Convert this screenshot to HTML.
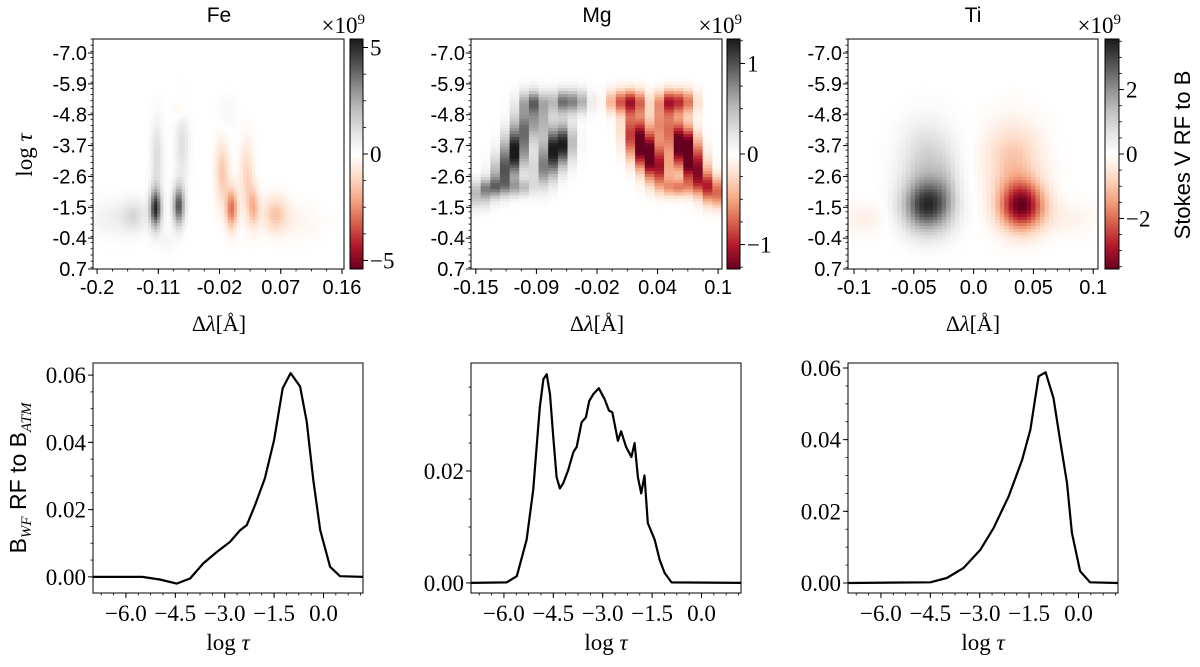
<!DOCTYPE html>
<html><head><meta charset="utf-8"><style>
html,body{margin:0;padding:0;background:#fff;}
svg{display:block;}
.sans{font-family:"Liberation Sans","DejaVu Sans",sans-serif;}
.serif{font-family:"Liberation Serif","DejaVu Serif",serif;}
</style></head><body>
<svg id="fig" width="1200" height="667" viewBox="0 0 1200 667" xmlns="http://www.w3.org/2000/svg"></svg>
<script>
// ---------- DATA ----------
const feLam=[-0.114,-0.08,-0.112,-0.075,-0.146,-0.18,-0.009,-0.097,-0.002,-0.016,0.02,0.03,0.062,-0.078,0.099];
const feTau=[-1.45,-1.55,-3.3,-3.7,-1.2,-1.1,-4.85,-0.3,-1.45,-2.7,-2.6,-1.5,-1.25,-4.96,-1.0];
const feAmp=[5.0,4.3,1.2,1.1,1.2,0.5,0.3,0.3,-3.0,-1.5,-1.2,-1.8,-1.5,-0.5,-0.3];
const feSl=[.006,.006,.006,.007,.013,.022,.01,.008,.006,.007,.007,.006,.013,.007,.022];
const feSt=[.5,.5,.9,.9,.4,.45,.45,.3,.5,.8,.9,.5,.45,.3,.45];

const mgLam=[-0.091,-0.06,-0.11,-0.122,-0.101,-0.07,-0.06,-0.08,-0.135,-0.147,-0.043,-0.084,-0.105,
 0.012,0.05,-0.005,0.067,0.019,0.03,0.06,0.069,0.04,0.078,0.091,0.098,0.057,0.012,0.043];
const mgTau=[-5.26,-5.26,-3.47,-2.7,-4.37,-3.47,-3.83,-2.8,-2.2,-1.85,-5.26,-4.6,-2.2,
 -5.26,-5.26,-5.26,-5.26,-3.77,-3.3,-3.9,-3.4,-2.8,-2.7,-2.27,-1.85,-2.2,-4.37,-4.5];
const mgAmp=[0.75,0.8,1.2,0.8,0.7,0.9,0.9,0.6,0.7,0.4,0.5,0.5,0.5,
 -0.9,-0.9,-0.5,-0.6,-1.0,-1.0,-1.0,-1.2,-0.7,-0.9,-0.7,-0.5,-0.6,-0.6,-0.6];
const mgSl=[.009,.009,.008,.008,.008,.008,.008,.008,.01,.009,.008,.008,.01,
 .009,.009,.008,.008,.008,.008,.008,.008,.008,.008,.008,.009,.01,.008,.008];
const mgSt=[.3,.3,.5,.45,.5,.5,.5,.45,.25,.3,.3,.45,.22,
 .3,.3,.3,.3,.5,.5,.5,.5,.45,.45,.3,.3,.22,.5,.45];

const tiLam=[-0.039,-0.039,0.040,0.033,-0.023,-0.092,0.08];
const tiTau=[-1.55,-3.2,-1.55,-3.2,-2.2,-1.1,-1.1];
const tiAmp=[3.2,1.0,-3.5,-1.0,0.5,-0.3,-0.25];
const tiSl=[.014,.015,.013,.016,.007,.013,.016];
const tiSt=[.65,.9,.6,.9,.8,.4,.4];

const topTauTicks=[-7.0,-5.9,-4.8,-3.7,-2.6,-1.5,-0.4,0.7];
const feXTicks=[-0.2,-0.11,-0.02,0.07,0.16];
const mgXTicks=[-0.15,-0.0875,-0.025,0.0375,0.1];
const mgXLabels=['-0.15','-0.09','-0.02','0.04','0.1'];
const tiXTicks=[-0.1,-0.05,0.0,0.05,0.1];
const tiXLabels=['-0.1','-0.05','0.0','0.05','0.1'];
const feCbTicks=[5,0,-5];const mgCbTicks=[1,0,-1];const tiCbTicks=[2,0,-2];

const feX=[-7,-5.5,-4.97,-4.46,-4.05,-3.65,-3.24,-2.84,-2.53,-2.33,-2.08,-1.78,-1.5,-1.24,-1.0,-0.71,-0.51,-0.31,-0.1,0.2,0.5,1.2];
const feY=[0,0,-0.0008,-0.002,-0.0005,0.004,0.0074,0.0104,0.0139,0.0154,0.0213,0.0293,0.0407,0.0561,0.0606,0.0566,0.0462,0.0288,0.0139,0.003,0.0002,0];
const mgX=[-7,-5.92,-5.61,-5.31,-5.11,-4.91,-4.8,-4.7,-4.6,-4.5,-4.4,-4.3,-4.2,-4.05,-3.89,-3.79,-3.64,-3.51,-3.41,-3.29,-3.12,-2.94,-2.81,-2.71,-2.54,-2.44,-2.29,-2.13,-2.03,-1.93,-1.83,-1.73,-1.63,-1.42,-1.27,-1.12,-0.91,1.2];
const mgY=[0,0.0001,0.0012,0.0077,0.0166,0.0314,0.0364,0.0373,0.0337,0.026,0.0189,0.0169,0.0178,0.0201,0.0234,0.0243,0.0287,0.0296,0.0325,0.0337,0.0348,0.0328,0.0308,0.0305,0.0254,0.0271,0.0243,0.0225,0.025,0.0189,0.016,0.0192,0.0107,0.0077,0.0041,0.0018,0.0001,0];
const tiX=[-7,-4.5,-4.0,-3.49,-2.98,-2.58,-2.12,-1.71,-1.46,-1.21,-1.0,-0.76,-0.56,-0.35,-0.2,0.05,0.35,1.2];
const tiY=[0,0.0002,0.0014,0.0042,0.0093,0.0153,0.0242,0.0344,0.0428,0.0577,0.0588,0.0516,0.04,0.0279,0.014,0.0033,0.0002,0];

// ---------- HELPERS ----------
const NS='http://www.w3.org/2000/svg';
const svg=document.getElementById('fig');
function mk(tag,attrs,parent){const e=document.createElementNS(NS,tag);for(const k in attrs)e.setAttribute(k,attrs[k]);(parent||svg).appendChild(e);return e;}
function txt(s,x,y,cls,size,anchor,parent){const t=mk('text',{x:x,y:y,'font-size':size,'text-anchor':anchor||'middle',class:cls,fill:'#000'},parent);t.textContent=s;return t;}
const stops=[[103,0,31],[178,24,43],[214,96,77],[244,165,130],[253,219,199],[255,255,255],[224,224,224],[186,186,186],[135,135,135],[77,77,77],[26,26,26]];
function cmap(t){t=Math.max(0,Math.min(1,t));const p=t*10,i=Math.min(9,Math.floor(p)),f=p-i;const a=stops[i],b=stops[i+1];
 return 'rgb('+[0,1,2].map(k=>Math.round(a[k]+(b[k]-a[k])*f)).join(',')+')';}

function heat(name,x0,x1,lamMin,lamMax,nx,L,T,A,SL,ST,vmax,cbx,cbw){
 const y0=39,y1=269,tMin=-7.5,tMax=0.7,ny=75;
 const sx=v=>x0+(v-lamMin)/(lamMax-lamMin)*(x1-x0);
 const sy=v=>y0+(v-tMin)/(tMax-tMin)*(y1-y0);
 const g=mk('g',{});
 
 
 const dl=(lamMax-lamMin)/nx,dt=(tMax-tMin)/ny;
 for(let i=0;i<nx;i++)for(let j=0;j<ny;j++){
  const l=lamMin+(i+.5)*dl,tt=tMin+(j+.5)*dt;let v=0;
  for(let k=0;k<L.length;k++){const a=(l-L[k])/SL[k],b=(tt-T[k])/ST[k];v+=A[k]*Math.exp(-0.5*(a*a+b*b));}
  if(Math.abs(v)<0.004*vmax)continue;
  const r=mk('rect',{x:sx(lamMin+i*dl).toFixed(2),y:sy(tMin+j*dt).toFixed(2),width:((x1-x0)/nx+0.4).toFixed(2),height:((y1-y0)/ny+0.4).toFixed(2),fill:cmap((v+vmax)/(2*vmax))},g);
  
  
 }
 const fr=mk('rect',{x:x0,y:y0,width:x1-x0,height:y1-y0,fill:'none',stroke:'#000','stroke-width':1});
 
 
 const ya=mk('g',{});
 
 
 for(let v=-7.5;v<=0.71;v+=0.22){mk('line',{x1:x0,x2:x0-2.5,y1:sy(v),y2:sy(v),stroke:'#000','stroke-width':0.8},ya);}
 topTauTicks.forEach(v=>{mk('line',{x1:x0,x2:x0-5,y1:sy(v),y2:sy(v),stroke:'#000','stroke-width':1},ya);
  txt(v.toFixed(1),x0-6,sy(v)+7,'sans',20,'end',ya);});
 return {sx,sy,y1,vmax,cbx,cbw};
}
function xaxis(name,h,ticks,labels,minorStep,lamMin,lamMax){
 const g=mk('g',{});
 
 
 for(let v=ticks[0];v<=lamMax+1e-9;v+=minorStep)mk('line',{x1:h.sx(v),x2:h.sx(v),y1:h.y1,y2:h.y1+2.5,stroke:'#000','stroke-width':0.8},g);
 ticks.forEach((v,i)=>{mk('line',{x1:h.sx(v),x2:h.sx(v),y1:h.y1,y2:h.y1+5,stroke:'#000','stroke-width':1},g);
  txt(labels[i],h.sx(v),h.y1+25,'sans',20,'middle',g);});
}
function colorbar(name,h,ticks){
 const y0=39,y1=269,g=mk('g',{});
 
 
 for(let i=0;i<115;i++){mk('rect',{x:h.cbx,y:y0+i*2,width:h.cbw,height:2.4,fill:cmap(1-(i+.5)/115)},g);}
 mk('rect',{x:h.cbx,y:y0,width:h.cbw,height:y1-y0,fill:'none',stroke:'#000','stroke-width':1},g);
 const cy=v=>(y0+y1)/2-v/h.vmax*(y1-y0)/2;
 const step=ticks[0]/4;
 for(let v=-Math.floor(h.vmax/step)*step;v<=h.vmax;v+=step)mk('line',{x1:h.cbx+h.cbw,x2:h.cbx+h.cbw+3,y1:cy(v),y2:cy(v),stroke:'#000','stroke-width':0.8},g);
 ticks.forEach(v=>{mk('line',{x1:h.cbx+h.cbw,x2:h.cbx+h.cbw+5,y1:cy(v),y2:cy(v),stroke:'#000'},g);
  txt(v<0?'\u2212'+(-v):String(v),h.cbx+h.cbw+7,cy(v)+8,'serif',23,'start',g);});
 const e=mk('text',{x:h.cbx+h.cbw+2,y:33,'font-size':23,'text-anchor':'end',class:'serif'},g);
 e.innerHTML='\u00d710<tspan font-size="15" dy="-9">9</tspan>';
}
// ---------- TOP ROW ----------
const fe=heat('fe',93,344,-0.206,0.163,82,feLam,feTau,feAmp,feSl,feSt,5.4,350,13);
xaxis('fe',fe,feXTicks,['-0.2','-0.11','-0.02','0.07','0.16'],0.0225,-0.206,0.163);
colorbar('fe',fe,feCbTicks);
const mg=heat('mg',471,722,-0.155,0.104,26,mgLam,mgTau,mgAmp,mgSl,mgSt,1.27,727,13);
xaxis('mg',mg,mgXTicks,mgXLabels,0.015625,-0.155,0.104);
colorbar('mg',mg,mgCbTicks);
const ti=heat('ti',848,1098,-0.105,0.104,56,tiLam,tiTau,tiAmp,tiSl,tiSt,3.57,1105,14);
xaxis('ti',ti,tiXTicks,tiXLabels,0.01,-0.105,0.104);
colorbar('ti',ti,tiCbTicks);

[['Fe',219],['Mg',597],['Ti',973]].forEach(([s,x])=>{const t=txt(s,x,22,'sans',21,'middle');});
[219,597,973].forEach(x=>{const t=mk('text',{x:x,y:331,'font-size':22,'text-anchor':'middle',class:'serif'});t.innerHTML='\u0394<tspan font-style="italic">\u03bb</tspan>[\u00c5]';});
let yl=mk('text',{x:0,y:0,'font-size':23,'text-anchor':'middle',class:'serif',transform:'translate(32,155) rotate(-90)'});
yl.innerHTML='log <tspan font-style="italic">\u03c4</tspan>';


let cl=txt('Stokes V RF to B',0,0,'sans',22,'middle');
cl.setAttribute('transform','translate(1190,155) rotate(-90)');



// ---------- BOTTOM ROW ----------
function lineplot(name,x0,x1,yMin,yMax,X,Y,yTicks,yLabels,yMinor){
 const y0=363,y1=593,xMin=-7.0,xMax=1.2;
 const sx=v=>x0+(v-xMin)/(xMax-xMin)*(x1-x0);
 const sy=v=>y1-(v-yMin)/(yMax-yMin)*(y1-y0);
 const fr=mk('rect',{x:x0,y:y0,width:x1-x0,height:y1-y0,fill:'none',stroke:'#000','stroke-width':1});
 
 
 const g=mk('g',{});
 
 
 for(let v=-7.125;v<=xMax;v+=0.375)if(v>=xMin)mk('line',{x1:sx(v),x2:sx(v),y1:y1,y2:y1+2.5,stroke:'#000','stroke-width':0.8},g);
 [-6,-4.5,-3,-1.5,0].forEach(v=>{mk('line',{x1:sx(v),x2:sx(v),y1:y1,y2:y1+5,stroke:'#000'},g);
  txt((v<0?'\u2212':'')+Math.abs(v).toFixed(1),sx(v),y1+28,'serif',23,'middle',g);});
 for(let v=0;v<=yMax;v+=yMinor)mk('line',{x1:x0,x2:x0-2.5,y1:sy(v),y2:sy(v),stroke:'#000','stroke-width':0.8},g);
 yTicks.forEach((v,i)=>{mk('line',{x1:x0,x2:x0-5,y1:sy(v),y2:sy(v),stroke:'#000'},g);
  txt(yLabels[i],x0-7,sy(v)+8,'serif',23,'end',g);});
 const p=mk('path',{d:X.map((v,i)=>(i?'L':'M')+sx(v).toFixed(1)+','+sy(Y[i]).toFixed(1)).join(''),fill:'none',stroke:'#000','stroke-width':2.2,'stroke-linejoin':'round'});
 
 
 const xl=mk('text',{x:(x0+x1)/2,y:650,'font-size':23,'text-anchor':'middle',class:'serif'});
 xl.innerHTML='log <tspan font-style="italic">\u03c4</tspan>';
 
 
}
lineplot('fe',93,363,-0.0048,0.0636,feX,feY,[0,0.02,0.04,0.06],['0.00','0.02','0.04','0.06'],0.005);
lineplot('mg',471,741,-0.0018,0.0393,mgX,mgY,[0,0.02],['0.00','0.02'],0.005);
lineplot('ti',848,1118,-0.0028,0.0614,tiX,tiY,[0,0.02,0.04,0.06],['0.00','0.02','0.04','0.06'],0.005);
let bl=mk('text',{x:0,y:0,'font-size':23,'text-anchor':'middle',class:'sans',transform:'translate(26,478) rotate(-90)'});
bl.innerHTML='B<tspan font-size="15" dy="5" font-style="italic" class="serif">WF</tspan><tspan dy="-5"> RF to B</tspan><tspan font-size="15" dy="5" font-style="italic" class="serif">ATM</tspan>';


</script>
</body></html>
